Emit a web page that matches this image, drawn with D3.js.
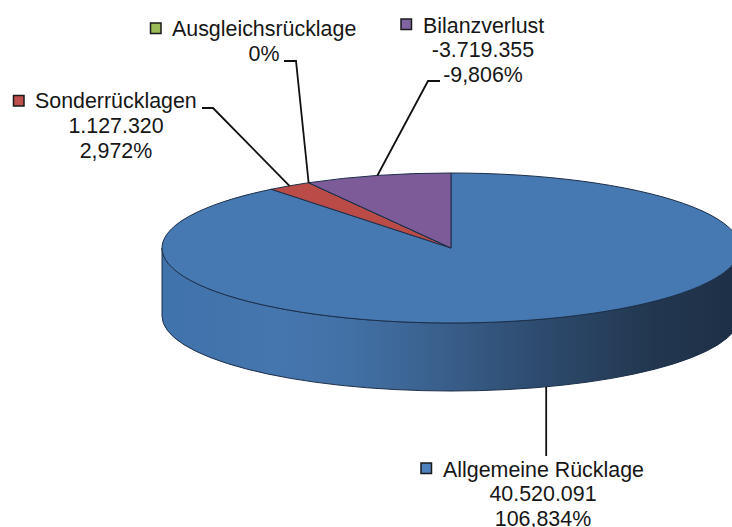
<!DOCTYPE html>
<html>
<head>
<meta charset="utf-8">
<script src="https://cdn.jsdelivr.net/npm/d3@7/dist/d3.min.js"></script>
<style>
  html, body { margin: 0; padding: 0; background: #fff; overflow: hidden; }
  svg { display: block; }
  text { font-family: "Liberation Sans", Arial, sans-serif; font-size: 21.4px; fill: #161616; }
</style>
</head>
<body>
<svg id="chart" width="732" height="527"></svg>
<script>
const categories = ['Allgemeine Rücklage', 'Sonderrücklagen', 'Ausgleichsrücklage', 'Bilanzverlust']
const amounts = [40520091, 1127320, 0, -3719355]
const amountLabels = ['40.520.091', '1.127.320', '', '-3.719.355']
const percentLabels = ['106,834%', '2,972%', '0%', '-9,806%']
const sliceColors = ['#4678b1', '#bb4b47', '#98b954', '#7d5b99']
const keyColors = ['#4f81bd', '#c0504d', '#9bbb59', '#8064a2']

const cx = 451
const cy = 248
const rx = 289
const ry = 75
const depth = 68
const edge = '#1c2f49'

// where each label block sits, and the elbow of its leader line
const labelLayout = [
  { key: [421, 463], name: [443, 477], mid: 543, first: 501, leader: [] },
  { key: [13.5, 95.5], name: [35, 108], mid: 116, first: 133, leader: [[202, 108], [213, 108]] },
  { key: [150.5, 23], name: [172, 36], mid: 264, first: 61, leader: [[284, 61], [296, 61]] },
  { key: [401, 19], name: [423, 33], mid: 483, first: 57, leader: [[440, 81], [428, 81]] }
]

const svg = d3.select('#chart')
const defs = svg.append('defs')

const wallGradient = defs.append('linearGradient')
  .attr('id', 'wall')
  .attr('gradientUnits', 'userSpaceOnUse')
  .attr('x1', cx - rx).attr('x2', cx + rx)
  .attr('y1', 0).attr('y2', 0)
wallGradient.selectAll('stop')
  .data([[0, '#4072ab'], [0.2, '#4576ae'], [0.32, '#4271a6'], [0.47, '#3a618e'], [0.66, '#2d4a6d'], [0.85, '#22374f'], [1, '#1d2f47']])
  .join('stop')
  .attr('offset', d => d[0])
  .attr('stop-color', d => d[1])

const pie = d3.pie().sort(null).value(d => Math.abs(d))
const slices = pie(amounts)
const arc = d3.arc().innerRadius(0).outerRadius(rx)

// point on the rim of the squashed pie, same parametric angle as the arc
const rim = a => [cx + rx * Math.sin(a), cy - ry * Math.cos(a)]

// side wall, front half only
svg.append('path')
  .attr('d', `M${cx - rx},${cy} A${rx},${ry} 0 0 0 ${cx + rx},${cy} V${cy + depth} A${rx},${ry} 0 0 1 ${cx - rx},${cy + depth} Z`)
  .attr('fill', 'url(#wall)')
  .attr('stroke', edge)
  .attr('stroke-width', 1)

svg.append('g')
  .attr('transform', `translate(${cx},${cy}) scale(1,${ry / rx})`)
  .selectAll('path')
  .data(slices)
  .join('path')
  .attr('d', arc)
  .attr('fill', (d, i) => sliceColors[i])
  .attr('stroke', edge)
  .attr('stroke-width', 1)
  .attr('vector-effect', 'non-scaling-stroke')
  .attr('stroke-linejoin', 'round')

const line = d3.line()

slices.forEach((s, i) => {
  const layout = labelLayout[i]
  const mid = (s.startAngle + s.endAngle) / 2
  const tip = rim(mid)
  // front facing slice: the leader starts at the bottom of the wall
  if (Math.cos(mid) < 0) tip[1] += depth

  let points = layout.leader.concat([tip])
  if (!layout.leader.length) points = [tip, [tip[0], layout.key[1] - 7]]

  svg.append('path')
    .attr('d', line(points))
    .attr('fill', 'none')
    .attr('stroke', '#111')
    .attr('stroke-width', 1.8)

  svg.append('rect')
    .attr('x', layout.key[0]).attr('y', layout.key[1])
    .attr('width', 10.5).attr('height', 10.5)
    .attr('fill', keyColors[i])
    .attr('stroke', '#1a1a1a')
    .attr('stroke-width', 1.5)

  svg.append('text')
    .attr('x', layout.name[0]).attr('y', layout.name[1])
    .text(categories[i])

  const rows = [amountLabels[i], percentLabels[i]].filter(Boolean)
  rows.forEach((row, r) => {
    svg.append('text')
      .attr('x', layout.mid).attr('y', layout.first + r * 25)
      .attr('text-anchor', 'middle')
      .text(row)
  })
})
</script>
</body>
</html>
